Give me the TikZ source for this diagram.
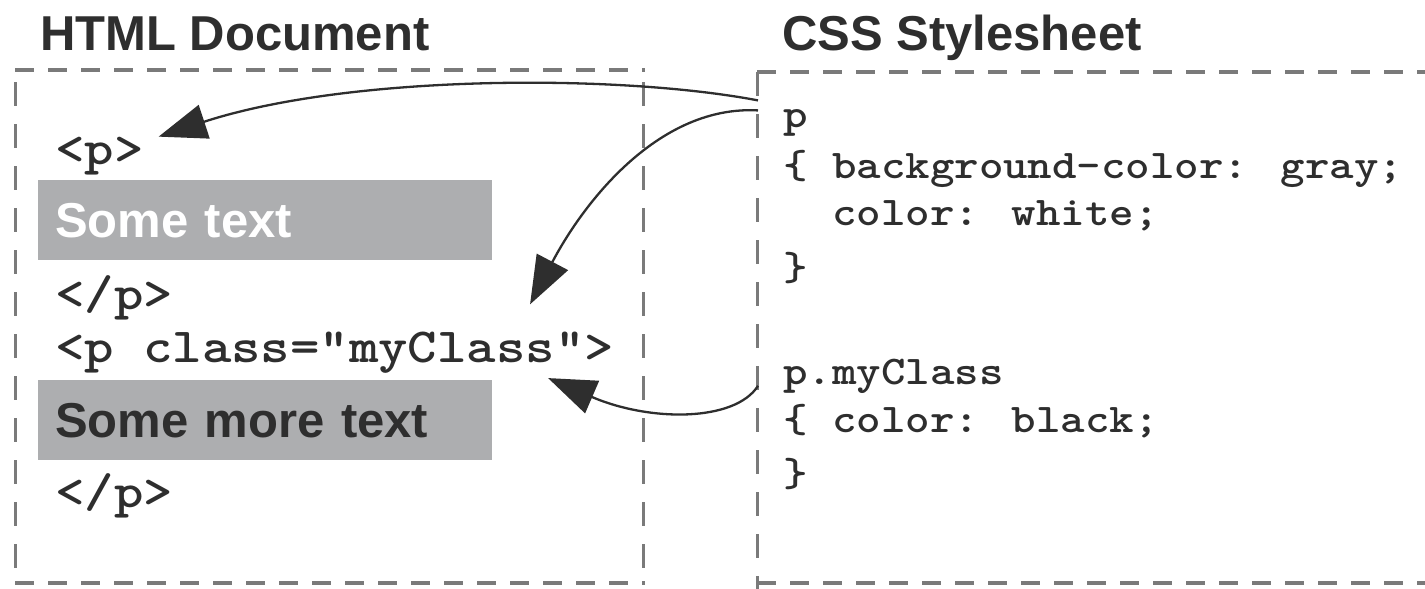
\documentclass[tikz,border=0pt]{standalone}
\usepackage{fontspec}
\setmainfont{Liberation Sans}
\newfontfamily\codefont{Latin Modern Mono Light}[FakeStretch=1.143]
\usetikzlibrary{arrows.meta}
\definecolor{inkgray}{HTML}{2E2E2E}
\definecolor{dashgray}{HTML}{7A7A7A}
\definecolor{boxgray}{HTML}{ADAEB0}

\begin{document}
\begin{tikzpicture}[x=1pt,y=-1pt,
    title/.style={anchor=base west,inner sep=0pt,text=inkgray,font=\fontsize{49}{58}\selectfont\bfseries},
    htmltag/.style={anchor=base west,inner sep=0pt,text=inkgray,font=\fontsize{49}{58}\selectfont\codefont\bfseries},
    csscode/.style={anchor=base west,inner sep=0pt,text=inkgray,font=\fontsize{40.8}{48}\selectfont\codefont\bfseries},
    parabox/.style={anchor=north west,fill=boxgray,minimum width=454pt,minimum height=80pt,text width=420pt,inner xsep=17pt,align=left,font=\fontsize{49}{58}\selectfont\bfseries},
    hline/.style={draw=dashgray,line width=4.5pt,dash pattern=on 19pt off 14pt},
    vline/.style={draw=dashgray,line width=3pt,dash pattern=on 24pt off 18pt},
    link/.style={draw=inkgray,line width=2.3pt,-{Triangle[length=48pt,width=35pt]}}]
  \useasboundingbox (0,0) rectangle (1425,589);
  % frames
  \draw[hline] (15,70) -- (645,70);
  \draw[hline] (15,583) -- (645,583);
  \draw[vline,dash phase=-12pt] (15,70) -- (15,583);
  \draw[vline,dash phase=-12pt] (643,70) -- (643,583);
  \draw[hline] (757,72) -- (1425,72);
  \draw[hline] (757,583) -- (1425,583);
  \draw[vline] (757,72) -- (757,589);
  % titles
  \node[title] (htmlTitle) at (40,50) {HTML Document};
  \node[title] (cssTitle) at (782,50) {CSS Stylesheet};
  % html side
  \node[htmltag] (openP) at (55,164) {<p>};
  \node[parabox,text=white] (someText) at (38,180) {Some text};
  \node[htmltag] (closeP) at (55,309) {</p>};
  \node[htmltag] (openPClass) at (55,362) {<p class="myClass">};
  \node[parabox,text=inkgray] (moreText) at (38,380) {Some more text};
  \node[htmltag] (closePClass) at (55,507) {</p>};
  % css side
  \node[csscode] (cssP) at (783,127) {p};
  \node[csscode] (cssBg) at (783,178) {\{ background-color: gray;};
  \node[csscode] (cssWhite) at (783,225) {\ \ color: white;};
  \node[csscode] (cssEnd) at (783,280) {\}};
  \node[csscode] (cssMyClass) at (783,384) {p.myClass};
  \node[csscode] (cssBlack) at (783,432) {\{ color: black;};
  \node[csscode] (cssEndClass) at (783,486) {\}};
  % links
  \draw[link] ([shift={(-25,-22)}]cssP.west) .. controls (620,74) and (350,74) .. ([shift={(15,-19)}]openP.east);
  \draw[link] ([shift={(-25,-12)}]cssP.west) .. controls (660,105) and (585,200) .. ([shift={(-84,-27)}]openPClass.north east);
  \draw[link] ([shift={(-25,10)}]cssMyClass.west) .. controls (735,422) and (650,422) .. ([shift={(-66,5)}]openPClass.south east);
\end{tikzpicture}
\end{document}
